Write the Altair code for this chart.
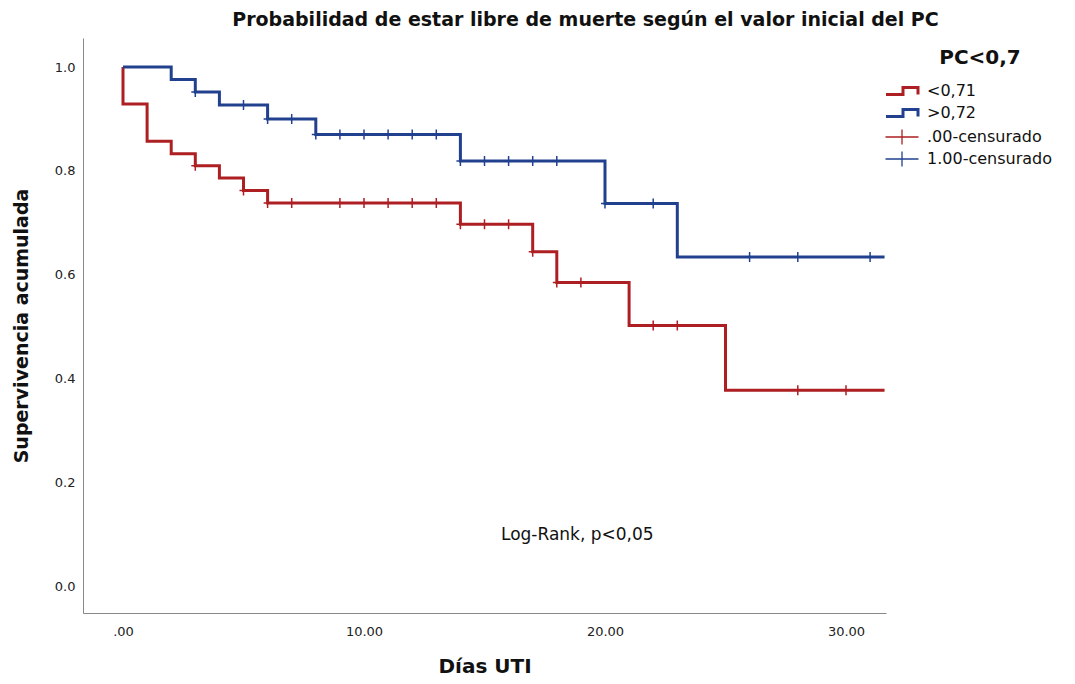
import altair as alt
import pandas as pd

# ---- data ----
groups = ["<0,71", ">0,72"]
censor_labels = [".00-censurado", "1.00-censurado"]
legend_title = "PC<0,7"

red_times = [0, 0, 1, 2, 3, 4, 5, 6, 14, 17, 18, 21, 25, 31.6]
red_surv = [1.0, 0.929, 0.857, 0.833, 0.810, 0.786, 0.762, 0.738, 0.697, 0.644, 0.585, 0.502, 0.377, 0.377]

blue_times = [0, 2, 3, 4, 6, 8, 14, 20, 23, 31.6]
blue_surv = [1.0, 0.976, 0.952, 0.927, 0.900, 0.870, 0.819, 0.737, 0.634, 0.634]

red_censor_days = [3, 5, 6, 7, 9, 10, 11, 12, 13, 14, 15, 16, 17, 18, 19, 22, 23, 28, 30]
blue_censor_days = [3, 5, 6, 7, 8, 9, 10, 11, 12, 13, 14, 15, 16, 17, 18, 20, 22, 26, 28, 31]

x_ticks = [0, 10, 20, 30]
y_ticks = [0.0, 0.2, 0.4, 0.6, 0.8, 1.0]

annotation_text = "Log-Rank, p<0,05"
annotation_x = 18.85
annotation_y = 0.098
legend_title_x = 35.56
legend_title_y = 1.017

RED = "#ad1f23"
BLUE = "#21408e"
FONT = "DejaVu Sans"


def step_value(times, surv, t):
    val = surv[0]
    for tt, ss in zip(times, surv):
        if tt <= t:
            val = ss
    return val


rows = []
for i, (t, s) in enumerate(zip(red_times, red_surv)):
    rows.append({"grupo": groups[0], "t": t, "s": s, "o": i})
for i, (t, s) in enumerate(zip(blue_times, blue_surv)):
    rows.append({"grupo": groups[1], "t": t, "s": s, "o": i})
lines_df = pd.DataFrame(rows)

crows = []
for d in red_censor_days:
    crows.append({"t": d, "s": step_value(red_times, red_surv, d), "cens": censor_labels[0]})
for d in blue_censor_days:
    crows.append({"t": d, "s": step_value(blue_times, blue_surv, d), "cens": censor_labels[1]})
cens_df = pd.DataFrame(crows)

ann_df = pd.DataFrame({"t": [annotation_x], "s": [annotation_y], "txt": [annotation_text]})
legtitle_df = pd.DataFrame({"t": [legend_title_x], "s": [legend_title_y], "txt": [legend_title]})

xscale = alt.Scale(domain=[-1.66, 31.66], nice=False, zero=False)
yscale = alt.Scale(domain=[-0.052, 1.056], nice=False, zero=False)

xaxis = alt.Axis(
    values=x_ticks, title="Días UTI", ticks=False, grid=False, orient="bottom",
    labelExpr="datum.value == 0 ? '.00' : format(datum.value, '.2f')",
    labelFontSize=13, labelPadding=12, labelColor="#222", labelFont=FONT,
    titleFontSize=20, titleFontWeight="bold", titleFont=FONT, titlePadding=18, titleColor="#111",
    domainColor="#888",
)
yaxis = alt.Axis(
    values=y_ticks, title="Supervivencia acumulada", ticks=False, grid=False, format=".1f",
    orient="left",
    labelFontSize=13, labelPadding=8, labelColor="#222", labelFont=FONT,
    titleFontSize=19, titleFontWeight="bold", titleFont=FONT, titlePadding=23, titleColor="#111",
    domainColor="#888",
)

STEP_PATH = "M-3.2,0.7H0.2V-0.7H3.2V0.7"
CROSS_PATH = "M-3.3,0H3.3M0,-1.5V1.5"

line_legend = alt.Legend(
    title=None, orient="none", legendX=811, legendY=45, padding=0,
    labelFontSize=16, labelFont=FONT, labelColor="#111", labelOffset=17,
    rowPadding=2, symbolSize=100, symbolType=STEP_PATH, symbolStrokeWidth=3,
    symbolFillColor="transparent", symbolOpacity=1,
)

cens_legend = alt.Legend(
    title=None, orient="none", legendX=811, legendY=91, padding=0,
    labelFontSize=16, labelFont=FONT, labelColor="#111", labelOffset=17,
    rowPadding=0, symbolSize=100, symbolType=CROSS_PATH, symbolStrokeWidth=1.3,
    symbolFillColor="transparent", symbolOpacity=1,
)

lines = alt.Chart(lines_df).mark_line(interpolate="step-after", strokeWidth=3).encode(
    x=alt.X("t:Q", scale=xscale, axis=xaxis),
    y=alt.Y("s:Q", scale=yscale, axis=yaxis),
    color=alt.Color("grupo:N", scale=alt.Scale(domain=groups, range=[RED, BLUE]), legend=line_legend),
    order="o:Q",
)

censors = alt.Chart(cens_df).mark_point(
    shape="M-0.8,0H0.8M0,-1V1", size=100, filled=False, strokeWidth=1.5, opacity=1
).encode(
    x=alt.X("t:Q", scale=xscale),
    y=alt.Y("s:Q", scale=yscale),
    stroke=alt.Stroke("cens:N", scale=alt.Scale(domain=censor_labels, range=[RED, BLUE]), legend=cens_legend),
)

annotation = alt.Chart(ann_df).mark_text(
    font=FONT, fontSize=17, color="#111", align="center", baseline="middle"
).encode(
    x=alt.X("t:Q", scale=xscale),
    y=alt.Y("s:Q", scale=yscale),
    text="txt:N",
)

legtitle = alt.Chart(legtitle_df).mark_text(
    font=FONT, fontSize=20, fontWeight="bold", color="#111", align="center", baseline="middle"
).encode(
    x=alt.X("t:Q", scale=xscale),
    y=alt.Y("s:Q", scale=yscale),
    text="txt:N",
)

chart = alt.layer(lines, censors, annotation, legtitle).properties(
    width=803, height=575,
    title=alt.TitleParams(
        "Probabilidad de estar libre de muerte según el valor inicial del PC",
        fontSize=19, fontWeight="bold", font=FONT, color="#111",
        anchor="middle", dx=101, offset=8,
    ),
    autosize=alt.AutoSizeParams(type="none"),
    padding={"left": 75, "top": 30, "right": 181, "bottom": 63},
).configure(background="white").configure_view(stroke=None)

chart.save("out.html", embed_options={"renderer": "svg", "actions": False})
